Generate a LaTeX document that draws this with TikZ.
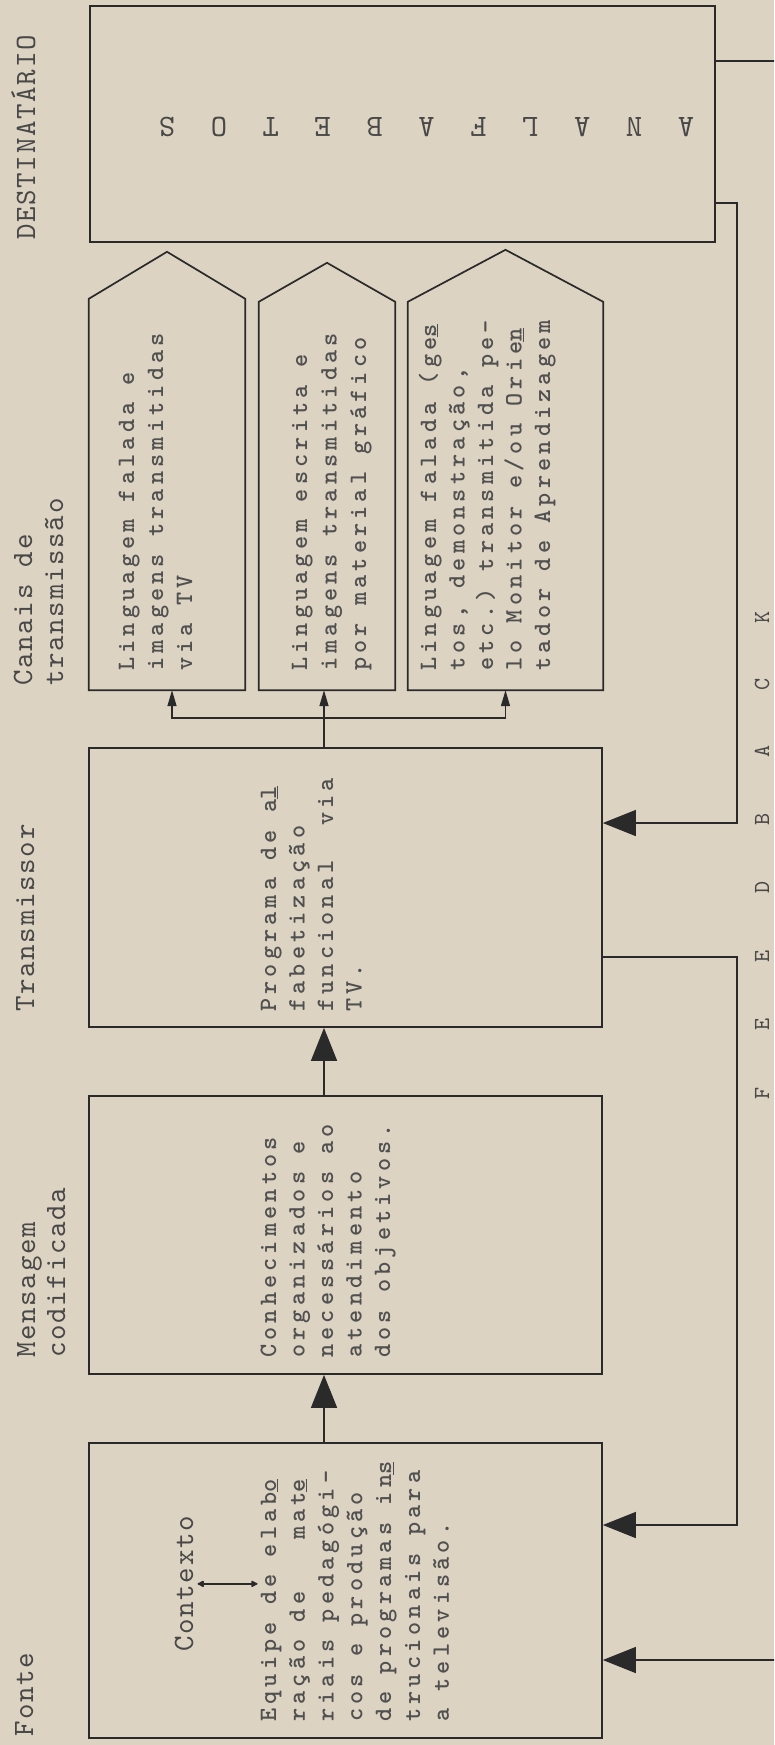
\documentclass[tikz,border=0pt]{standalone}
\usepackage{fontspec}
\usetikzlibrary{arrows.meta}
\newfontfamily\twbody{lmmonolt10-bold.otf}[LetterSpace=16.7]
\newfontfamily\twhead{lmmono10-regular.otf}[LetterSpace=5.8]
\newfontfamily\twplain{lmmono10-regular.otf}
\definecolor{paper}{RGB}{220,211,194}
\definecolor{ink}{RGB}{42,42,42}
\definecolor{tink}{RGB}{72,72,72}
\definecolor{bink}{RGB}{80,80,80}
\begin{document}
\begin{tikzpicture}[x=1pt,y=-1pt,
 box/.style={draw=ink,line width=1.7pt,inner sep=0pt,line join=miter},
 ghost/.style={inner sep=0pt},
 body/.style={font=\twbody\fontsize{25}{29}\selectfont\frenchspacing,text=bink,inner sep=0pt,rotate=90,anchor=base west},
 head/.style={font=\twhead\fontsize{29.5}{31}\selectfont\frenchspacing,text=tink,inner sep=0pt,rotate=90,anchor=base west},
 fbl/.style={font=\twplain\fontsize{23}{23}\selectfont,text=tink,inner sep=0pt,rotate=90},
 anl/.style={font=\twplain\fontsize{31}{31}\selectfont,text=tink,inner sep=0pt,rotate=180},
 link/.style={draw=ink,line width=1.5pt,line join=miter},
 big/.style={link,-{Triangle[length=33pt,width=26pt]}},
 small/.style={link,-{Triangle[length=16pt,width=9pt]}},
 dbl/.style={draw=ink,line width=2.2pt,{Latex[length=8pt,width=8pt,round]}-{Latex[length=8pt,width=8pt,round]}}]
\useasboundingbox (0,0) rectangle (774,1745);
\fill[paper] (0,0) rectangle (774,1745);
\clip (0,0) rectangle (774,1745);

% main boxes
\node[box,minimum width=625pt,minimum height=236pt] (dest) at (402.5,124) {};
\node[box,minimum width=513pt,minimum height=279pt] (trans) at (345.5,887.5) {};
\node[box,minimum width=513pt,minimum height=278pt] (mens) at (345.5,1235) {};
\node[box,minimum width=513pt,minimum height=295pt] (fonte) at (345.5,1590.5) {};

% channel boxes (pentagons)
\node[ghost,minimum width=156pt,minimum height=391pt] (c1) at (167,494.5) {};
\node[ghost,minimum width=136pt,minimum height=388pt] (c2) at (327,496) {};
\node[ghost,minimum width=195pt,minimum height=388pt] (c3) at (505.5,496) {};
\draw[box] (c1.south west) -- (c1.north west) -- ([yshift=47pt]c1.north) -- (c1.north east) -- (c1.south east) -- cycle;
\draw[box] (c2.south west) -- (c2.north west) -- ([yshift=39pt]c2.north) -- (c2.north east) -- (c2.south east) -- cycle;
\draw[box] (c3.south west) -- (c3.north west) -- ([yshift=52pt]c3.north) -- (c3.north east) -- (c3.south east) -- cycle;

% headings
\node[head] (hfonte) at (33,1737) {Fonte};
\node[head] (hmens1) at (35,1358) {Mensagem};
\node[head] (hmens2) at (65,1358) {codificada};
\node[head] (htrans) at (34,1012) {Transmissor};
\node[head] (hcan1) at (32,686) {Canais de};
\node[head] (hcan2) at (63,686) {transmissão};
\node[head] (hdest) at (35,240) {DESTINATÁRIO};
\node[head] (ctx) at (193,1652) {Contexto};

% box texts
\foreach \t [count=\i] in {{Equipe de elab\underline{o}},{ração de\ \ \ mat\underline{e}},{riais pedagógi-},{cos e produção},{de programas in\underline{s}},{trucionais para},{a televisão.}}
  \node[body] (fo\i) at ({276+28.8*(\i-1)},1722) {\t};
\foreach \t [count=\i] in {{Conhecimentos},{organizados e},{necessários ao},{atendimento},{dos objetivos.}}
  \node[body] (me\i) at ({276+28.5*(\i-1)},1358) {\t};
\foreach \t [count=\i] in {{Programa de a\underline{l}},{fabetização},{funcional\ \ via},{TV.}}
  \node[body] (tr\i) at ({276+28.5*(\i-1)},1012) {\t};
\foreach \t [count=\i] in {{Linguagem falada e},{imagens transmitidas},{via TV}}
  \node[body] (ca\i) at ({134+29*(\i-1)},671) {\t};
\foreach \t [count=\i] in {{Linguagem escrita e},{imagens transmitidas},{por material gráfico}}
  \node[body] (cb\i) at ({307+29.5*(\i-1)},671) {\t};
\foreach \t [count=\i] in {{Linguagem falada (ge\underline{s}},{tos, demonstração,},{etc.) transmitida pe-},{lo Monitor e/ou Orie\underline{n}},{tador de Aprendizagem}}
  \node[body] (cc\i) at ({436+28.5*(\i-1)},671) {\t};

% ANALFABETOS
\foreach \l [count=\i] in {A,N,A,L,F,A,B,E,T,O,S}
  \node[anl] (an\i) at ({686-51.9*(\i-1)},127) {\l};

% FEEDBACK
\foreach \l/\yy [count=\i] in {K/617,C/684,A/751,B/819,D/887,E/956,E/1024,F/1093}
  \node[fbl] (fb\i) at (762,\yy) {\l};

% context double arrow
\draw[dbl,shorten <=4pt,shorten >=3pt] (ctx.south) -- (ctx.south -| fo1.north);

% forward arrows
\coordinate (ax) at (324,0);
\coordinate (jn) at (324,718);
\draw[big] (fonte.north -| ax) -- (mens.south -| ax);
\draw[big] (mens.north -| ax) -- (trans.south -| ax);
\draw[small] (trans.north -| ax) -- (c2.south -| ax);
\draw[small] (jn) -| ([xshift=5pt]c1.south);
\draw[small] (jn) -| (c3.south);

% feedback lines
\coordinate (fbO) at (781,0);
\coordinate (fbI) at (737,0);
\coordinate (d1) at ([yshift=-56pt]dest.north east);
\coordinate (d2) at ([yshift=40pt]dest.south east);
\coordinate (t1) at ([yshift=64.5pt]trans.east);
\coordinate (t2) at ([yshift=-69.5pt]trans.east);
\coordinate (f1) at ([yshift=-69.5pt]fonte.east);
\coordinate (f2) at ([yshift=65.5pt]fonte.east);
\draw[big] (d1) -- (d1 -| fbO) -- (f1 -| fbO) -- (f1);
\draw[big] (d2) -- (d2 -| fbI) -- (t1 -| fbI) -- (t1);
\draw[big] (t2) -- (t2 -| fbI) -- (f2 -| fbI) -- (f2);
\end{tikzpicture}
\end{document}
